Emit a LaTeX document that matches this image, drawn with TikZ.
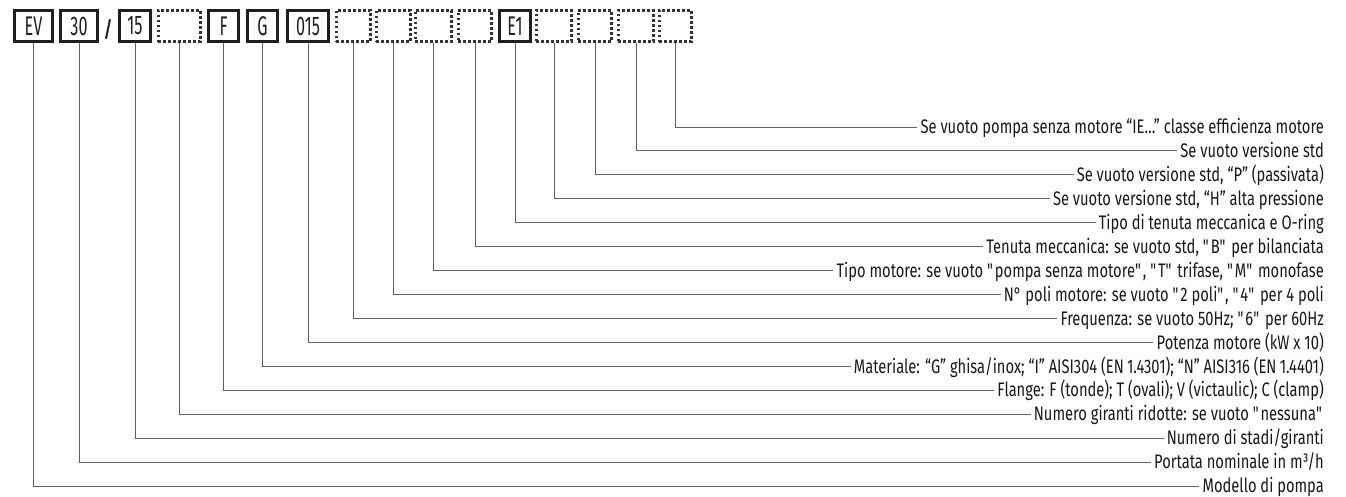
\documentclass[tikz,border=0pt]{standalone}
\usepackage{fontspec}
\setmainfont{Fira Sans}[FakeStretch=0.75]
\newfontfamily\codefont{Fira Sans}[FakeStretch=0.6]
\newfontfamily\slashfont{Fira Sans}[FakeStretch=0.8, FakeBold=2.5]
\begin{document}
\begin{tikzpicture}[x=1pt,y=-1pt,
  codebox/.style={draw=black!88, line width=2.8pt, minimum height=31.2pt,
    inner sep=0pt, font=\codefont\fontsize{27}{27}\selectfont, text=black!88},
  emptybox/.style={codebox, draw=black!80, dash pattern=on 2.6pt off 2.4pt},
  lead/.style={draw=black!62, line width=1pt},
  desc/.style={anchor=east, inner sep=3pt, text height=13.4pt, text depth=0pt,
    font=\fontsize{19.6}{22}\selectfont, text=black!90}]
\useasboundingbox (0,0) rectangle (1346,496);

% code fields: name / centre x / outer width / content / style
\foreach \n/\cx/\w/\t/\s in {
  b1/33.5/41/EV/codebox, b2/79/40/30/codebox, b3/135/34/15/codebox,
  b4/179.5/45//emptybox, b5/223.5/33/F/codebox, b6/262.5/33/G/codebox,
  b7/308/44/015/codebox, b8/353.5/37//emptybox, b9/393.5/37//emptybox,
  b10/433.5/39//emptybox, b11/475/36//emptybox, b12/515/34/E1/codebox,
  b13/554/38//emptybox, b14/595/36//emptybox, b15/636/38//emptybox,
  b16/675.5/35//emptybox}
  \node[\s, minimum width=\w pt-2.8pt] (\n) at (\cx,26) {\t};

\node[font=\slashfont\fontsize{21}{21}\selectfont, text=black!88] (sl) at (108,29) {/};

% descriptions, right aligned, one row per field
\node[desc] (l16) at (1327,127.0) {Se vuoto pompa senza motore “IE…” classe efficienza motore};
\node[desc] (l15) at (1327,150.9) {Se vuoto versione std};
\node[desc] (l14) at (1327,174.9) {Se vuoto versione std, “P” (passivata)};
\node[desc] (l13) at (1327,198.8) {Se vuoto versione std, “H” alta pressione};
\node[desc] (l12) at (1327,222.7) {Tipo di tenuta meccanica e O-ring};
\node[desc] (l11) at (1327,246.7) {Tenuta meccanica: se vuoto std, \textquotedbl B\textquotedbl{} per bilanciata};
\node[desc] (l10) at (1327,270.6) {Tipo motore: se vuoto \textquotedbl pompa senza motore\textquotedbl, \textquotedbl T\textquotedbl{} trifase, \textquotedbl M\textquotedbl{} monofase};
\node[desc] (l9)  at (1327,294.5) {N° poli motore: se vuoto \textquotedbl 2 poli\textquotedbl, \textquotedbl 4\textquotedbl{} per 4 poli};
\node[desc] (l8)  at (1327,318.4) {Frequenza: se vuoto 50Hz; \textquotedbl 6\textquotedbl{} per 60Hz};
\node[desc] (l7)  at (1327,342.4) {Potenza motore (kW x 10)};
\node[desc] (l6)  at (1327,366.3) {Materiale: “G” ghisa/inox; “I” AISI304 (EN\,1.4301); “N” AISI316 (EN\,1.4401)};
\node[desc] (l5)  at (1327,390.2) {Flange: F (tonde); T (ovali); V (victaulic); C (clamp)};
\node[desc] (l4)  at (1327,414.2) {Numero giranti ridotte: se vuoto \textquotedbl nessuna\textquotedbl};
\node[desc] (l3)  at (1327,438.1) {Numero di stadi/giranti};
\node[desc] (l2)  at (1327,462.0) {Portata nominale in m³/h};
\node[desc] (l1)  at (1327,486.0) {Modello di pompa};

% leaders from each field down and across to its description
\foreach \i in {1,...,16}
  \draw[lead] (b\i.south) |- (l\i.west);
\end{tikzpicture}
\end{document}
